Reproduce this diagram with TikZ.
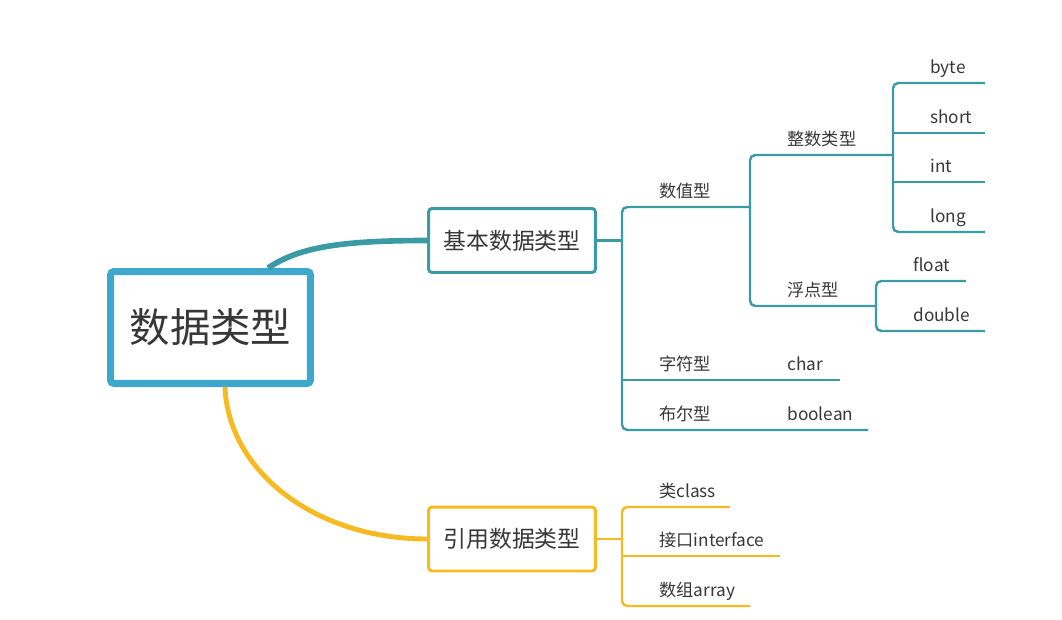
\documentclass[tikz,border=0pt]{standalone}
\usepackage{fontspec}
\setmainfont{Noto Sans CJK SC}
\usepackage{xcolor}
\usetikzlibrary{positioning}
\definecolor{rootblue}{RGB}{62,168,204}
\definecolor{mapteal}{RGB}{58,155,165}
\definecolor{mapyellow}{RGB}{247,186,35}
\definecolor{maptext}{RGB}{55,55,55}

\begin{document}
\begin{tikzpicture}[x=0.02cm, y=-0.02cm, text=maptext]
    \tikzstyle{rootbox} = [rectangle, draw=rootblue, line width=4pt, rounded corners=2pt, fill=white, minimum width=4cm, minimum height=2.24cm, font=\fontsize{23}{27}\selectfont]
    \tikzstyle{mainbox} = [rectangle, line width=1.7pt, rounded corners=2pt, fill=white, minimum width=3.34cm, minimum height=1.28cm, font=\fontsize{13}{16}\selectfont]
    \tikzstyle{leaf} = [anchor=base west, inner sep=0pt, font=\fontsize{9.8}{12}\selectfont]
    \tikzstyle{tline} = [draw=mapteal, line width=1.4pt, rounded corners=3pt]
    \tikzstyle{yline} = [draw=mapyellow, line width=1.4pt, rounded corners=3pt]

    \useasboundingbox (0,0) rectangle (1062,619);

    \node (root) [rootbox] at (210.5,327.5) {数据类型};
    \node (basic) [mainbox, draw=mapteal] at (512,240.5) {基本数据类型};
    \node (refbox) [mainbox, draw=mapyellow] at (512,539) {引用数据类型};

    \draw [draw=mapteal, line width=3.2pt] ([xshift=-0.92cm]root.north east) .. controls +(30,-20) and +(-90,0) .. (basic.west);
    \draw [draw=mapyellow, line width=2.8pt] ([xshift=0.29cm]root.south) .. controls +(3,84) and +(-112,0) .. (refbox.west);

    % topics: name / line start / line end / line y / text
    \foreach \n/\xs/\xe/\y/\t in {numv/622/750/207/数值型, intg/750/893/155/整数类型,
        byte/893/985/83/byte, short/893/985/133/short, int/893/985/182/int, long/893/985/232/long,
        flt/750/876/306/浮点型, float/876/966/281/float, double/876/985/331/double,
        chr/622/750/380/字符型, char/750/840/380/char, bool/622/750/430/布尔型, boolean/750/868/430/boolean,
        cls/622/730/507/类class, iface/622/780/556/接口interface, arr/622/750/606/数组array} {
        \coordinate (\n-s) at (\xs,\y);
        \coordinate (\n-e) at (\xe,\y);
        \node (\n) [leaf] at ({\xs+37},{\y-10}) {\t};
    }

    \draw [tline] (basic.east) -- (basic.east -| numv-s);
    \draw [tline] (numv-e) -- (numv-s) -- (bool-s) -- (boolean-e);
    \draw [tline] (chr-s) -- (char-e);
    \draw [tline] (intg-e) -- (intg-s) -- (flt-s) -- (flt-e);
    \draw [tline] (byte-e) -- (byte-s) -- (long-s) -- (long-e);
    \draw [tline] (short-s) -- (short-e);
    \draw [tline] (int-s) -- (int-e);
    \draw [tline] (float-e) -- (float-s) -- (double-s) -- (double-e);

    \draw [yline] (refbox.east) -- (refbox.east -| cls-s);
    \draw [yline] (cls-e) -- (cls-s) -- (arr-s) -- (arr-e);
    \draw [yline] (iface-s) -- (iface-e);
\end{tikzpicture}
\end{document}
